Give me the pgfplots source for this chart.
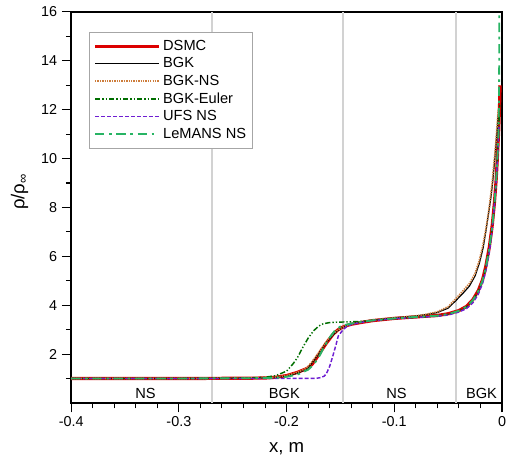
\documentclass[border=0pt]{standalone}
\usepackage{fontspec}
\setmainfont{Liberation Sans}
\usepackage{pgfplots}
\pgfplotsset{compat=1.18}

\definecolor{dsmcred}{RGB}{220,0,0}
\definecolor{bgkns}{RGB}{205,125,60}
\definecolor{euler}{RGB}{0,110,0}
\definecolor{ufs}{RGB}{110,30,210}
\definecolor{lemans}{RGB}{40,180,100}
\definecolor{zone}{RGB}{210,210,210}

\begin{document}
\begin{tikzpicture}
\begin{axis}[
scale only axis,
width=324pt,height=294pt,
xmin=-0.4,xmax=0,ymin=0,ymax=16,
xtick={-0.4,-0.3,-0.2,-0.1,0},
xticklabels={-0.4,-0.3,-0.2,-0.1,0},
minor x tick num=4,
ytick={2,4,...,16},
minor ytick={1,3,...,15},
/pgf/number format/assume math mode=true,
ticklabel style={font=\fontsize{10.8}{12}\selectfont},
tick align=outside,tick pos=left,
major tick length=7pt,minor tick length=4pt,
tick style={black,line width=0.8pt},
axis line style={line width=1.2pt},
xlabel={x, m},
ylabel={ρ/ρ\textsubscript{∞}},
label style={font=\fontsize{14}{16}\selectfont},
xlabel style={at={(axis description cs:0.5,-0.117)},anchor=center},
ylabel style={at={(axis description cs:-0.12,0.54)},anchor=center},
legend cell align=left,
legend image code/.code={\draw[#1] (0pt,0pt) -- (48pt,0pt);},
legend style={at={(0.042,0.949)},anchor=north west,draw=gray!70,fill=white,
  font=\fontsize{11}{12}\selectfont,row sep=0pt,inner xsep=3pt,inner ysep=4pt},
]
% zone boundaries
\addplot[zone,line width=1.3pt,forget plot] coordinates {(-0.269,0) (-0.269,16)};
\addplot[zone,line width=1.3pt,forget plot] coordinates {(-0.1475,0) (-0.1475,16)};
\addplot[zone,line width=1.3pt,forget plot] coordinates {(-0.043,0) (-0.043,16)};

\addplot[dsmcred,line width=2.4pt] coordinates {
(-0.4,1.0) (-0.3,1.0) (-0.24,1.01) (-0.22,1.02) (-0.21,1.05) (-0.2,1.12) (-0.19,1.25)
(-0.18,1.43) (-0.176,1.6) (-0.172,1.85) (-0.168,2.12) (-0.163,2.45) (-0.157,2.8)
(-0.153,2.97) (-0.149,3.08) (-0.144,3.17) (-0.14,3.22) (-0.13,3.3) (-0.12,3.37)
(-0.1,3.46) (-0.08,3.52) (-0.06,3.58) (-0.05,3.65) (-0.04,3.78) (-0.033,3.95)
(-0.027,4.23) (-0.022,4.6) (-0.018,5.05) (-0.015,5.6) (-0.0117,6.4) (-0.009,7.3)
(-0.0071,8.17) (-0.0055,9.1) (-0.0046,9.8) (-0.0031,11.15) (-0.0022,12.3) (-0.0018,13.0)};
\addlegendentry{DSMC}

\addplot[black,line width=0.9pt] coordinates {
(-0.4,1.0) (-0.3,1.0) (-0.24,1.01) (-0.22,1.02) (-0.21,1.04) (-0.2,1.1) (-0.19,1.22)
(-0.1815,1.38) (-0.177,1.6) (-0.172,1.9) (-0.167,2.22) (-0.163,2.48) (-0.157,2.78)
(-0.153,2.95) (-0.149,3.07) (-0.144,3.17) (-0.138,3.25) (-0.13,3.32) (-0.12,3.39)
(-0.1,3.48) (-0.08,3.56) (-0.07,3.62) (-0.06,3.7) (-0.05,3.88) (-0.0426,4.2)
(-0.036,4.5) (-0.0303,4.78) (-0.025,5.2) (-0.021,5.72) (-0.0175,6.35) (-0.0148,7.08)
(-0.012,7.9) (-0.0102,8.44) (-0.0085,9.1) (-0.0071,9.8) (-0.0058,10.5) (-0.0046,11.15)
(-0.0035,11.8)};
\addlegendentry{BGK}

\addplot[bgkns,line width=1.3pt,dash pattern=on 1pt off 0.8pt] coordinates {
(-0.4,1.0) (-0.3,1.0) (-0.24,1.01) (-0.22,1.03) (-0.21,1.05) (-0.2,1.12) (-0.19,1.25)
(-0.1815,1.42) (-0.177,1.65) (-0.172,1.95) (-0.167,2.27) (-0.163,2.52) (-0.157,2.82)
(-0.153,2.97) (-0.149,3.08) (-0.144,3.17) (-0.138,3.25) (-0.13,3.32) (-0.12,3.39)
(-0.1,3.48) (-0.08,3.56) (-0.07,3.63) (-0.06,3.73) (-0.05,3.94) (-0.0426,4.28)
(-0.036,4.6) (-0.03,4.9) (-0.025,5.3) (-0.021,5.85) (-0.018,6.4) (-0.015,7.1)
(-0.0125,7.8) (-0.0105,8.5) (-0.009,9.1) (-0.0075,9.8) (-0.006,10.5) (-0.005,11.1)
(-0.0035,12.0)};
\addlegendentry{BGK-NS}

\addplot[euler,line width=1.1pt,dash pattern=on 4pt off 1.5pt on 1pt off 1.5pt on 1pt off 1.5pt] coordinates {
(-0.4,1.0) (-0.3,1.0) (-0.24,1.02) (-0.22,1.05) (-0.21,1.12) (-0.2,1.3) (-0.194,1.6)
(-0.19,1.85) (-0.1846,2.3) (-0.18,2.65) (-0.175,2.95) (-0.17,3.15) (-0.166,3.24)
(-0.16,3.29) (-0.15,3.31) (-0.14,3.32) (-0.13,3.34) (-0.12,3.38) (-0.1,3.45)
(-0.08,3.5) (-0.06,3.56) (-0.05,3.63) (-0.04,3.76) (-0.033,3.93) (-0.027,4.2)
(-0.022,4.57) (-0.018,5.0) (-0.015,5.55) (-0.0117,6.35) (-0.009,7.25) (-0.0071,8.1)
(-0.0055,9.05) (-0.0046,9.75) (-0.0031,11.1) (-0.0022,12.2)};
\addlegendentry{BGK-Euler}

\addplot[ufs,line width=1.1pt,dash pattern=on 3pt off 1.5pt] coordinates {
(-0.4,1.0) (-0.3,1.0) (-0.2,1.0) (-0.172,1.01) (-0.168,1.04) (-0.165,1.1) (-0.163,1.2)
(-0.16,1.5) (-0.157,1.93) (-0.154,2.4) (-0.152,2.74) (-0.1475,3.0) (-0.144,3.13)
(-0.14,3.21) (-0.13,3.3) (-0.12,3.37) (-0.1,3.45) (-0.08,3.5) (-0.06,3.55) (-0.05,3.6)
(-0.04,3.72) (-0.033,3.86) (-0.027,4.1) (-0.022,4.45) (-0.018,4.9) (-0.015,5.4)
(-0.012,6.1) (-0.0095,6.95) (-0.0075,7.85) (-0.006,8.7) (-0.0048,9.5) (-0.0037,10.4)
(-0.0028,11.3)};
\addlegendentry{UFS NS}

\addplot[lemans,line width=1.4pt,dash pattern=on 7pt off 3.5pt on 2pt off 3.5pt] coordinates {
(-0.4,1.0) (-0.3,1.0) (-0.24,1.01) (-0.22,1.02) (-0.21,1.03) (-0.2,1.07) (-0.19,1.16)
(-0.18,1.36) (-0.175,1.56) (-0.17,1.88) (-0.165,2.3) (-0.16,2.68) (-0.155,2.97)
(-0.15,3.13) (-0.145,3.2) (-0.14,3.25) (-0.13,3.32) (-0.12,3.38) (-0.1,3.46)
(-0.08,3.52) (-0.06,3.57) (-0.05,3.64) (-0.04,3.77) (-0.033,3.94) (-0.027,4.21)
(-0.022,4.58) (-0.018,5.02) (-0.015,5.55) (-0.0117,6.35) (-0.009,7.25) (-0.0071,8.12)
(-0.0055,9.05) (-0.0046,9.75) (-0.0033,11.0) (-0.0028,12.5) (-0.0026,14.0) (-0.0025,17.0)};
\addlegendentry{LeMANS NS}

\node[font=\fontsize{11}{12}\selectfont] at (axis cs:-0.331,0.37) {NS};
\node[font=\fontsize{11}{12}\selectfont] at (axis cs:-0.202,0.37) {BGK};
\node[font=\fontsize{11}{12}\selectfont] at (axis cs:-0.098,0.37) {NS};
\node[font=\fontsize{11}{12}\selectfont] at (axis cs:-0.019,0.37) {BGK};
\end{axis}
\pgfresetboundingbox
\path ([shift={(-53.5pt,-42pt)}]current axis.south west) rectangle ([shift={(4.5pt,9pt)}]current axis.north east);
\end{tikzpicture}
\end{document}
